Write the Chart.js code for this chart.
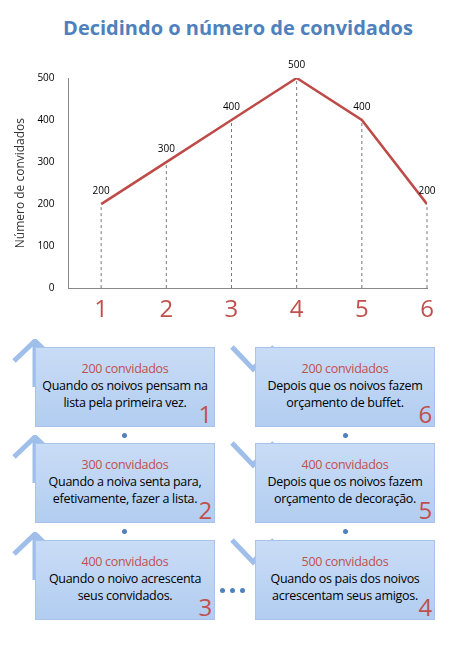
<!DOCTYPE html>
<html><head><meta charset="utf-8">
<script src="https://cdn.jsdelivr.net/npm/chart.js@4"></script>
<style>
body{margin:0;width:476px;height:650px;background:#fff;font-family:"Open Sans",sans-serif;position:relative;overflow:hidden}
#title{position:absolute;top:14px;left:0;width:476px;text-align:center;color:#4F81BD;font:bold 20px "Open Sans",sans-serif}
#wrap{position:absolute;left:0;top:50px;width:476px;height:275px}
.box{position:absolute;width:178px;height:78px;background:linear-gradient(#c9dcf6,#b2cdf1);border:1px solid #a9c4ea;text-align:center;font:12.5px "Open Sans",sans-serif;letter-spacing:-0.3px;color:#000;line-height:17px}
.box .h{color:#C0504D;margin-top:12px}
.box .n{position:absolute;right:2px;bottom:-4px;color:#C0504D;font:24px "Open Sans",sans-serif}
.arr{position:absolute;width:50px;height:50px}
.dot{position:absolute;width:5px;height:5px;border-radius:50%;background:#4F81BD}
</style></head><body>
<div id="title">Decidindo o número de convidados</div>
<div id="wrap"><canvas id="c"></canvas></div>
<div id="boxes"></div>
<script>
const categories=[1,2,3,4,5,6];
const guests=[200,300,400,500,400,200];
const yTicks=[0,100,200,300,400,500];
const leftItems=[["200 convidados","Quando os noivos pensam na lista pela primeira vez.","1"],["300 convidados","Quando a noiva senta para, efetivamente, fazer a lista.","2"],["400 convidados","Quando o noivo acrescenta seus convidados.","3"]];
const rightItems=[["200 convidados","Depois que os noivos fazem orçamento de buffet.","6"],["400 convidados","Depois que os noivos fazem orçamento de decoração.","5"],["500 convidados","Quando os pais dos noivos acrescentam seus amigos.","4"]];

const drop={id:'drop',afterDatasetsDraw(ch){const c=ch.ctx,x=ch.scales.x,y=ch.scales.y;c.save();c.setLineDash([3,3]);c.strokeStyle='#777';c.lineWidth=1;
categories.forEach((k,i)=>{const px=x.getPixelForValue(k);c.beginPath();c.moveTo(px,y.getPixelForValue(guests[i])+3);c.lineTo(px,y.getPixelForValue(0));c.stroke();});
c.setLineDash([]);c.fillStyle='#000';c.font='10px "Open Sans",sans-serif';c.textAlign='center';
categories.forEach((k,i)=>c.fillText(guests[i],x.getPixelForValue(k),y.getPixelForValue(guests[i])-10));c.restore();}};
new Chart(document.getElementById('c'),{type:'line',data:{datasets:[{data:categories.map((k,i)=>({x:k,y:guests[i]})),borderColor:'#BE4B48',borderWidth:2.5,pointRadius:0,tension:0}]},
options:{responsive:true,maintainAspectRatio:false,animation:false,layout:{padding:{left:9,right:49,top:28}},plugins:{legend:{display:false},tooltip:{enabled:false}},
scales:{x:{type:'linear',min:0.5,max:6,afterBuildTicks:a=>{a.ticks=categories.map(v=>({value:v}));},grid:{display:false},border:{color:'#888'},ticks:{color:'#C0504D',font:{size:24,family:'"Open Sans",sans-serif'},padding:0}},
y:{min:0,max:500,afterBuildTicks:a=>{a.ticks=yTicks.map(v=>({value:v}));},grid:{display:false},border:{color:'#888'},ticks:{color:'#000',font:{size:10,family:'"Open Sans",sans-serif'},padding:6},title:{display:true,text:'Número de convidados',color:'#333',font:{size:12,family:'"Open Sans",sans-serif'}}}}},plugins:[drop]});

const B=document.getElementById('boxes');const tops=[347,443,540];
function arrow(x,y,up){const s=document.createElementNS('http://www.w3.org/2000/svg','svg');s.setAttribute('class','arr');s.style.left=x+'px';s.style.top=y+'px';
s.innerHTML=up?'<path d="M25 48 V4 M4 22 L25 2 L46 22" stroke="#8fb3e6" stroke-width="5" fill="none" opacity="0.85"/>':'<path d="M4 6 L25 28 L46 6" stroke="#8fb3e6" stroke-width="5" fill="none" opacity="0.85"/>';B.appendChild(s);}
function box(x,y,it){const d=document.createElement('div');d.className='box';d.style.left=x+'px';d.style.top=y+'px';d.innerHTML='<div class="h">'+it[0]+'</div><div>'+it[1]+'</div><div class="n">'+it[2]+'</div>';B.appendChild(d);}
tops.forEach((t,i)=>{arrow(10,t-8,true);box(35,t,leftItems[i]);arrow(228,t-6,false);box(255,t,rightItems[i]);});
[[122,433],[122,529],[343,433],[343,529],[220,588],[230,588],[240,588]].forEach(p=>{const d=document.createElement('div');d.className='dot';d.style.left=p[0]+'px';d.style.top=p[1]+'px';B.appendChild(d);});
</script></body></html>
